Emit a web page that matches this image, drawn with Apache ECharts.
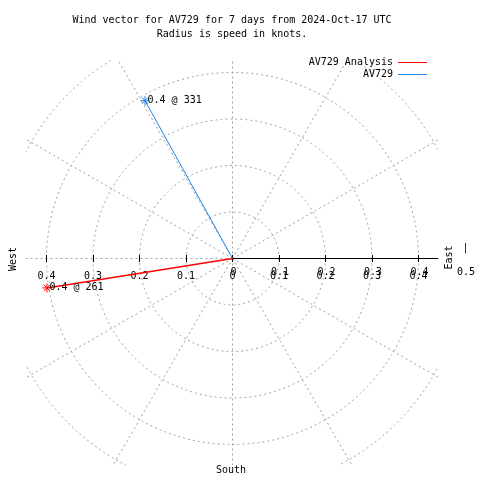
<!DOCTYPE html>
<html><head><meta charset="utf-8">
<script src="https://cdn.jsdelivr.net/npm/echarts@6/dist/echarts.min.js"></script>
<style>html,body{margin:0;padding:0;background:#fff}#c{width:480px;height:480px}</style>
</head><body><div id="c"></div>
<script>
// ---- data ----
const titleLines = ['Wind vector for AV729 for 7 days from 2024-Oct-17 UTC', 'Radius is speed in knots.'];
const seriesNames = ['AV729 Analysis', 'AV729'];
const seriesColors = ['#ff0000', '#1f83e6'];
const speeds = [0.404, 0.388];      // knots (radius)
const directions = [261, 331];      // degrees, clockwise from north
const radiusTicks = [0, 0.1, 0.2, 0.3, 0.4];
const gridRings = [0.1, 0.2, 0.3, 0.4, 0.5];
const gridSpokes = [0, 30, 60, 90, 120, 150, 180, 210, 240, 270, 300, 330];
const axisNames = { east: 'East', west: 'West', south: 'South' };

// ---- layout ----
const FONT = '"DejaVu Sans Mono", "Liberation Mono", monospace';
const CX = 232.5, CY = 258.5, PX = 465; // px per knot
const PLOT = { left: 26, right: 438, top: 60, bottom: 465 };
const gridColor = '#a0a0a0';
const dash = [2, 3];

const star = 'path://M0,5L10,5M5,0L5,10M1.5,1.5L8.5,8.5M8.5,1.5L1.5,8.5';
const fmt = v => String(Math.round(Math.abs(v) * 10) / 10);

const dataSeries = seriesNames.map((name, i) => ({
  name, type: 'line', coordinateSystem: 'polar', polarIndex: 0, clip: false,
  z: 10 - i,
  lineStyle: { color: seriesColors[i], width: i === 0 ? 1.5 : 1 },
  itemStyle: { color: seriesColors[i], borderColor: seriesColors[i], borderWidth: 1 },
  data: [
    { value: [0, directions[i]], symbol: 'none' },
    { value: [speeds[i], directions[i]], symbol: star, symbolSize: 9,
      label: { show: true, position: 'right', distance: -2.5, color: '#000',
               fontFamily: FONT, fontSize: 10,
               formatter: () => speeds[i].toFixed(1) + ' @ ' + directions[i] } }
  ]
}));

const gridStyle = { fill: 'none', stroke: gridColor, lineDash: dash, lineWidth: 1 };
const ringSeries = {
  type: 'custom', xAxisIndex: 2, yAxisIndex: 2, clip: true, silent: true, z: -2,
  data: gridRings.map(r => [r, 0]),
  renderItem: (params, api) => {
    const c = api.coord([0, 0]);
    const e = api.coord([api.value(0), 0]);
    return { type: 'circle', shape: { cx: c[0], cy: c[1], r: e[0] - c[0] }, style: gridStyle };
  }
};
const spokeSeries = {
  type: 'custom', xAxisIndex: 2, yAxisIndex: 2, clip: true, silent: true, z: -2,
  data: gridSpokes.map(a => [a, 0]),
  renderItem: (params, api) => {
    const a = api.value(0) * Math.PI / 180;
    const c = api.coord([0, 0]);
    const e = api.coord([Math.sin(a), Math.cos(a)]);
    return { type: 'line', shape: { x1: c[0], y1: c[1], x2: e[0], y2: e[1] }, style: gridStyle };
  }
};

const option = {
  animation: false,
  backgroundColor: '#fff',
  title: {
    text: titleLines.join('\n'), left: 232, top: 13, padding: 0, textAlign: 'center',
    textStyle: { fontFamily: FONT, fontSize: 10, fontWeight: 'normal', color: '#000', lineHeight: 14 }
  },
  legend: seriesNames.map((n, i) => ({
    data: [{ name: n, itemStyle: { color: seriesColors[i], borderWidth: 0 } }],
    right: 53, top: 57.5 + i * 12, padding: 0, align: 'right', orient: 'vertical',
    icon: 'rect', itemWidth: 29, itemHeight: 1, selectedMode: false,
    itemStyle: { borderWidth: 0 },
    textStyle: { fontFamily: FONT, fontSize: 10, color: '#000' }
  })),
  polar: [
    { center: [CX, CY], radius: radiusTicks[radiusTicks.length - 1] * PX },
    { center: [CX, CY], radius: PLOT.right - CX }
  ],
  angleAxis: [
    { polarIndex: 0, type: 'value', min: 0, max: 360, startAngle: 90, clockwise: true,
      axisLine: { show: false }, axisTick: { show: false }, axisLabel: { show: false }, splitLine: { show: false } },
    { polarIndex: 1, type: 'value', min: 0, max: 360, startAngle: 0, clockwise: true,
      axisLine: { show: false }, axisTick: { show: false }, axisLabel: { show: false }, splitLine: { show: false } }
  ],
  radiusAxis: [
    { polarIndex: 0, type: 'value', min: 0, max: radiusTicks[radiusTicks.length - 1], interval: 0.1,
      axisLine: { show: false }, axisTick: { show: false }, axisLabel: { show: false }, splitLine: { show: false } },
    { polarIndex: 1, type: 'value', min: 0, max: (PLOT.right - CX) / PX, z: 5,
      axisLine: { show: true, lineStyle: { color: '#000', width: 1 } },
      axisTick: { show: false }, axisLabel: { show: false }, splitLine: { show: false } }
  ],
  grid: [
    { left: CX - 0.4 * PX, width: 0.8 * PX, top: 230, height: 32 },
    { left: CX + 1, width: 0.5 * PX, top: 230, height: 29 },
    { left: PLOT.left, width: PLOT.right - PLOT.left, top: PLOT.top, height: PLOT.bottom - PLOT.top }
  ],
  xAxis: [
    { gridIndex: 0, type: 'value', min: -0.4, max: 0.4, interval: 0.1, position: 'bottom', z: 5,
      axisLine: { show: false }, splitLine: { show: false },
      axisTick: { show: true, inside: true, length: 7, lineStyle: { color: '#000' } },
      axisLabel: { show: true, margin: 9, color: '#000', fontFamily: FONT, fontSize: 10, formatter: fmt } },
    { gridIndex: 1, type: 'value', min: 0, max: 0.5, interval: 0.1, position: 'bottom', z: 5,
      axisLine: { show: false }, splitLine: { show: false }, axisTick: { show: false },
      axisLabel: { show: true, margin: 8, color: '#000', fontFamily: FONT, fontSize: 10, formatter: fmt } },
    { gridIndex: 2, type: 'value', show: false,
      min: (PLOT.left - CX) / PX, max: (PLOT.right - CX) / PX }
  ],
  yAxis: [
    { gridIndex: 0, type: 'value', show: false, min: 0, max: 1 },
    { gridIndex: 1, type: 'value', show: false, min: 0, max: 1 },
    { gridIndex: 2, type: 'value', show: false,
      min: -(PLOT.bottom - CY) / PX, max: (CY - PLOT.top) / PX }
  ],
  graphic: [
    { type: 'text', x: 449.5, y: 257.5, rotation: Math.PI / 2,
      style: { text: axisNames.east, font: '10px ' + FONT, fill: '#000', align: 'center', verticalAlign: 'middle', textAlign: 'center', textVerticalAlign: 'middle' } },
    { type: 'text', x: 13.5, y: 259, rotation: Math.PI / 2,
      style: { text: axisNames.west, font: '10px ' + FONT, fill: '#000', align: 'center', verticalAlign: 'middle', textAlign: 'center', textVerticalAlign: 'middle' } },
    { type: 'text', x: 231, y: 470.5,
      style: { text: axisNames.south, font: '10px ' + FONT, fill: '#000', align: 'center', verticalAlign: 'middle', textAlign: 'center', textVerticalAlign: 'middle' } },
    { type: 'text', x: 465.5, y: 248.5,
      style: { text: '|', font: '10px ' + FONT, fill: '#000', align: 'center', verticalAlign: 'middle', textAlign: 'center', textVerticalAlign: 'middle' } }
  ],
  series: [ringSeries, spokeSeries].concat(dataSeries)
};
const chart = echarts.init(document.getElementById('c'), null, { renderer: 'canvas' });
chart.setOption(option);
</script></body></html>
